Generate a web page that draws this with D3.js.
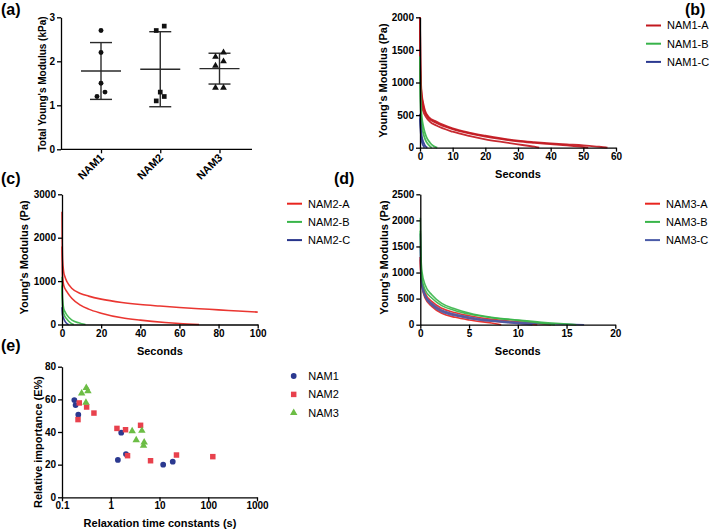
<!DOCTYPE html>
<html><head><meta charset="utf-8">
<script src="https://cdn.jsdelivr.net/npm/d3@7"></script>
<style>body{margin:0;background:#fff}svg{display:block}</style>
</head><body><svg id="c" width="709" height="532"></svg>
<script>
// ---------- DATA ----------
// (a) Total Young's modulus (kPa)
const groups = ["NAM1", "NAM2", "NAM3"];
const nam1Total = [2.7, 2.2, 1.5, 1.3, 1.2];
const nam2Total = [2.8, 2.7, 1.3, 1.2, 1.1];
const nam3Total = [2.2, 2.1, 2.0, 1.9, 1.4, 1.4];
const aTicks = [0, 1, 2, 3];

// (b) NAM1 relaxation curves [seconds, Pa]
const nam1A_1 = [[0,2000],[0.1,1400],[0.3,1000],[0.6,800],[1,680],[1.5,576],[2.6,475],[5,400],[10,296],[15,232],[20,184],[25,142],[30,107],[35,84],[40,65],[45,50],[50,35],[54,18],[57,3],[57.4,0]];
const nam1A_2 = [[0,2000],[0.1,1350],[0.3,950],[0.6,760],[1,640],[1.5,550],[2.6,455],[5,380],[10,285],[15,220],[20,170],[25,130],[30,97],[35,74],[40,54],[45,35],[49,15],[51.5,0]];
const nam1A_3 = [[0,2000],[0.1,1200],[0.3,850],[0.6,650],[1,560],[1.8,475],[3,400],[5,340],[10,245],[15,180],[20,128],[25,88],[30,51],[33,30],[35,15],[36.5,0]];
const nam1B_1 = [[0,1400],[0.1,950],[0.3,640],[0.6,450],[1,330],[1.5,230],[2,160],[3,80],[4,30],[5,5],[5.3,0]];
const nam1B_2 = [[0,1400],[0.1,800],[0.3,500],[0.6,330],[1,220],[1.5,140],[2,85],[3,25],[3.6,0]];
const nam1C_1 = [[0,520],[0.1,400],[0.3,270],[0.6,160],[1,90],[1.5,35],[2,8],[2.3,0]];
const nam1C_2 = [[0,450],[0.2,250],[0.5,110],[1,30],[1.4,0]];
const bXTicks = [0,10,20,30,40,50,60];
const bYTicks = [0,500,1000,1500,2000];

// (c) NAM2 relaxation curves
const nam2A_1 = [[0,2600],[0.1,1900],[0.3,1500],[0.85,1215],[1.5,1100],[2.55,985],[5.1,830],[9.4,715],[13.6,654],[20,585],[30.6,508],[40,461],[50,425],[60,392],[70,363],[80,338],[90,310],[100,285]];
const nam2A_2 = [[0,1800],[0.1,1400],[0.3,1100],[0.85,907],[2.55,754],[5.1,600],[9.4,446],[13.6,354],[20,261],[30.6,154],[40,100],[52.7,46],[60,23],[70,0]];
const nam2B_1 = [[0,1100],[0.1,800],[0.3,600],[0.85,369],[1.7,280],[2.55,215],[5.1,100],[8.5,38],[10,18],[12,0]];
const nam2B_2 = [[0,900],[0.1,600],[0.3,430],[0.85,254],[2.55,123],[4.2,46],[6,0]];
const nam2C_1 = [[0,400],[0.2,250],[0.5,180],[0.85,138],[1.7,61],[2.5,20],[3.4,0]];
const cXTicks = [0,20,40,60,80,100];
const cYTicks = [0,1000,2000,3000];

// (d) NAM3 relaxation curves
const nam3A_1 = [[0,1300],[0.05,1000],[0.17,750],[0.5,506],[1.2,346],[2.2,218],[3.6,141],[5,90],[7.3,32],[8.3,0]];
const nam3A_2 = [[0,1300],[0.05,1050],[0.17,820],[0.5,602],[1.2,442],[2.2,314],[3.6,230],[5,173],[7.3,102],[10,58],[13.4,0]];
const nam3A_3 = [[0,1250],[0.05,980],[0.17,780],[0.5,550],[1.2,390],[2.2,265],[3.6,185],[5,130],[7.3,70],[10,30],[12,0]];
const nam3B_1 = [[0,2050],[0.05,1400],[0.17,1018],[0.5,762],[1.2,570],[2.2,410],[3.6,301],[5,224],[7.3,141],[10,90],[13.1,38],[15.5,6],[16,0]];
const nam3B_2 = [[0,1800],[0.05,1200],[0.17,900],[0.5,666],[1.2,506],[2.2,365],[3.6,269],[5,205],[7.3,134],[10,83],[12,40],[13.8,0]];
const nam3C_1 = [[0,1750],[0.05,1150],[0.17,850],[0.5,570],[1.2,410],[2.2,282],[3.6,198],[5,147],[7.3,83],[10,45],[13.1,19],[16.8,0]];
const nam3C_2 = [[0,1500],[0.05,1000],[0.17,750],[0.5,530],[1.2,370],[2.2,250],[3.6,170],[5,120],[7.3,65],[10,25],[11.5,0]];
const dXTicks = [0,5,10,15,20];
const dYTicks = [0,500,1000,1500,2000,2500];

// (e) relaxation time constants (s) vs relative importance (E%)
const nam1Tau = [0.179, 0.19, 0.216, 1.64, 1.40, 2.05, 11.9, 18.7];
const nam1E   = [59.6, 56.5, 50.6, 39.6, 22.9, 26.5, 20.0, 21.8];
const nam2Tau = [0.226, 0.213, 0.32, 0.452, 1.34, 2.01, 4.09, 2.21, 6.55, 22.3, 124];
const nam2E   = [57.8, 47.6, 55.3, 51.6, 42.2, 41.4, 44.1, 25.5, 22.4, 25.9, 24.9];
const nam3Tau = [0.315, 0.34, 0.253, 0.31, 2.75, 4.35, 3.33, 4.85, 4.7];
const nam3E   = [67.1, 65.1, 63.7, 58.0, 40.6, 40.8, 35.1, 33.7, 31.6];
const eXTicks = [0.1, 1, 10, 100, 1000];
const eYTicks = [0, 20, 40, 60, 80];

// ---------- DRAWING ----------
const FONT = "'Liberation Sans', Arial, Helvetica, sans-serif";
const svg = d3.select("#c").attr("font-family", FONT);
svg.append("rect").attr("width", 709).attr("height", 532).attr("fill", "#fff");

function styleAxis(sel, fs) {
  sel.attr("font-family", FONT);
  sel.select(".domain").attr("stroke", "#000").attr("stroke-width", 1.3);
  sel.selectAll(".tick line").attr("stroke", "#000").attr("stroke-width", 1.3);
  sel.selectAll(".tick text").attr("font-size", fs).attr("font-weight", "bold").attr("fill", "#000");
}
function yAxis(scale, x, ticks, fmt) {
  const g = svg.append("g").attr("transform", `translate(${x},0)`)
    .call(d3.axisLeft(scale).tickValues(ticks).tickSize(4).tickSizeOuter(0).tickPadding(2).tickFormat(fmt || d3.format("d")));
  styleAxis(g, 10);
  return g;
}
function xAxis(scale, y, ticks, fmt) {
  const g = svg.append("g").attr("transform", `translate(0,${y})`)
    .call(d3.axisBottom(scale).tickValues(ticks).tickSize(4).tickSizeOuter(0).tickPadding(1).tickFormat(fmt || d3.format("d")));
  styleAxis(g, 10);
  return g;
}
function label(x, y, txt, size, weight, rotate, anchor) {
  const t = svg.append("text").attr("x", x).attr("y", y).text(txt)
    .attr("font-size", size).attr("font-weight", weight || "bold")
    .attr("text-anchor", anchor || "middle").attr("fill", "#000");
  if (rotate) t.attr("transform", `rotate(${rotate},${x},${y})`);
  return t;
}

// Panel labels
label(1, 15, "(a)", 16, "bold", 0, "start");
label(685, 15, "(b)", 16, "bold", 0, "start");
label(1, 184, "(c)", 16, "bold", 0, "start");
label(334, 184, "(d)", 16, "bold", 0, "start");
label(1, 351, "(e)", 16, "bold", 0, "start");

// ---- (a) ----
{
  const x = d3.scalePoint().domain(groups).range([101, 219.5]);
  const y = d3.scaleLinear().domain([0, 3]).range([149.3, 17.3]);
  yAxis(y, 61, aTicks);
  const gx = svg.append("g").attr("transform", "translate(0,149.3)")
    .call(d3.axisBottom(x).tickSize(4).tickSizeOuter(0));
  styleAxis(gx, 11);
  gx.select(".domain").remove();
  svg.append("line").attr("x1", 61).attr("x2", 252).attr("y1", 149.3).attr("y2", 149.3)
    .attr("stroke", "#000").attr("stroke-width", 1.3);
  gx.selectAll(".tick text").attr("x", 0).attr("y", 0).attr("dy", 0)
    .attr("text-anchor", "end").attr("transform", "translate(3,9) rotate(-45)");
  label(46, 84, "Total Young's Modulus (kPa)", 10, "bold", -90);

  const sets = [nam1Total, nam2Total, nam3Total];
  const shapes = [d3.symbolCircle, d3.symbolSquare, d3.symbolTriangle];
  const sizes = [19, 22, 20];
  sets.forEach((vals, gi) => {
    const cx = x(groups[gi]);
    const mean = d3.mean(vals), sd = d3.deviation(vals);
    const col = "#2a2a2a";
    svg.append("line").attr("x1", cx - 20).attr("x2", cx + 20).attr("y1", y(mean)).attr("y2", y(mean)).attr("stroke", col).attr("stroke-width", 1.4);
    svg.append("line").attr("x1", cx).attr("x2", cx).attr("y1", y(mean + sd)).attr("y2", y(mean - sd)).attr("stroke", col).attr("stroke-width", 1.4);
    [mean + sd, mean - sd].forEach(v => svg.append("line").attr("x1", cx - 11).attr("x2", cx + 11)
      .attr("y1", y(v)).attr("y2", y(v)).attr("stroke", col).attr("stroke-width", 1.4));
    // cluster-based horizontal dodge of overlapping points
    const sorted = vals.map((v, i) => ({ v, i })).sort((a, b) => b.v - a.v);
    const clusters = [];
    sorted.forEach(p => {
      const last = clusters[clusters.length - 1];
      if (last && Math.abs(last[last.length - 1].v - p.v) < 0.15) last.push(p); else clusters.push([p]);
    });
    clusters.forEach(cl => {
      cl.forEach((p, k) => {
        let off;
        if (cl.length === 1) off = 0;
        else if (cl.length % 2 === 1) off = k === 0 ? 0 : (k % 2 === 1 ? 4 : -4);
        else off = k % 2 === 0 ? 4 : -4;
        svg.append("path").attr("d", d3.symbol().type(shapes[gi]).size(sizes[gi])())
          .attr("transform", `translate(${cx + off},${y(p.v)})`).attr("fill", "#111");
      });
    });
  });
}

function curvePanel(opt) {
  const x = d3.scaleLinear().domain(opt.xDom).range(opt.xRange);
  const y = d3.scaleLinear().domain(opt.yDom).range(opt.yRange);
  const line = d3.line().x(d => x(d[0])).y(d => y(d[1])).curve(d3.curveMonotoneX);
  const drawOrder = opt.drawOrder || opt.series.map((s, i) => i);
  drawOrder.forEach(i => {
    const s = opt.series[i];
    s.curves.forEach(c => svg.append("path").attr("d", line(c)).attr("fill", "none")
      .attr("stroke", s.color).attr("stroke-width", opt.lw || 1.6).attr("stroke-opacity", 0.92));
  });
  yAxis(y, opt.xRange[0], opt.yTicks);
  xAxis(x, opt.yRange[0], opt.xTicks);
  label((opt.xRange[0] + opt.xRange[1]) / 2, opt.xTitleY, "Seconds", 11, "bold");
  label(opt.yTitleX, (opt.yRange[0] + opt.yRange[1]) / 2 - 2, "Young's Modulus (Pa)", 11, "bold", -90);
  opt.series.forEach((s, i) => {
    const ly = opt.legY + i * 18.2;
    svg.append("line").attr("x1", opt.legX).attr("x2", opt.legX + 15).attr("y1", ly).attr("y2", ly)
      .attr("stroke", s.color).attr("stroke-width", 2);
    svg.append("text").attr("x", opt.legX + 21).attr("y", ly).attr("dy", "0.36em").text(s.name)
      .attr("font-size", 11).attr("fill", "#000");
  });
}

// ---- (b) ----
curvePanel({
  xDom: [0, 60], xRange: [420, 616], yDom: [0, 2000], yRange: [147.7, 17.3],
  xTicks: bXTicks, yTicks: bYTicks, xTitleY: 178, yTitleX: 387, legX: 646, legY: 25.5, lw: 1.8,
  series: [
    { name: "NAM1-A", color: "#c2181f", curves: [nam1A_1, nam1A_2, nam1A_3] },
    { name: "NAM1-B", color: "#37b34a", curves: [nam1B_1, nam1B_2] },
    { name: "NAM1-C", color: "#2b3990", curves: [nam1C_1, nam1C_2] }
  ]
});

// ---- (c) ----
curvePanel({
  xDom: [0, 100], xRange: [62, 257.7], yDom: [0, 3000], yRange: [324.5, 194.3],
  xTicks: cXTicks, yTicks: cYTicks, xTitleY: 355, yTitleX: 28, legX: 287, legY: 203.7,
  series: [
    { name: "NAM2-A", color: "#e8251f", curves: [nam2A_1, nam2A_2] },
    { name: "NAM2-B", color: "#39b54a", curves: [nam2B_1, nam2B_2] },
    { name: "NAM2-C", color: "#27348b", curves: [nam2C_1] }
  ]
});

// ---- (d) ----
curvePanel({
  xDom: [0, 20], xRange: [420.3, 615.3], yDom: [0, 2500], yRange: [324.7, 194.3],
  xTicks: dXTicks, yTicks: dYTicks, xTitleY: 355, yTitleX: 388, legX: 645, legY: 203.7,
  drawOrder: [0, 2, 1],
  series: [
    { name: "NAM3-A", color: "#e8251f", curves: [nam3A_1, nam3A_2, nam3A_3] },
    { name: "NAM3-B", color: "#39b54a", curves: [nam3B_1, nam3B_2] },
    { name: "NAM3-C", color: "#4a5ba8", curves: [nam3C_1, nam3C_2] }
  ]
});

// ---- (e) ----
{
  const x = d3.scaleLog().domain([0.1, 1000]).range([62, 257]);
  const y = d3.scaleLinear().domain([0, 80]).range([497.3, 366.7]);
  yAxis(y, 62, eYTicks);
  xAxis(x, 497.3, eXTicks, d => String(d));
  label(41.5, 442, "Relative importance (E%)", 11, "bold", -90);
  label(160, 527, "Relaxation time constants (s)", 11, "bold");
  const series = [
    { name: "NAM1", tau: nam1Tau, e: nam1E, type: d3.symbolCircle, size: 26, color: "#2b3990" },
    { name: "NAM2", tau: nam2Tau, e: nam2E, type: d3.symbolSquare, size: 30, color: "#e8414d" },
    { name: "NAM3", tau: nam3Tau, e: nam3E, type: d3.symbolTriangle, size: 24, color: "#6cbd45" }
  ];
  series.forEach((s, i) => {
    s.tau.forEach((t, k) => svg.append("path").attr("d", d3.symbol().type(s.type).size(s.size)())
      .attr("transform", `translate(${x(t)},${y(s.e[k])})`).attr("fill", s.color));
    const ly = 376 + i * 18.4;
    svg.append("path").attr("d", d3.symbol().type(s.type).size(s.size)())
      .attr("transform", `translate(293.7,${ly})`).attr("fill", s.color);
    svg.append("text").attr("x", 308.3).attr("y", ly).attr("dy", "0.36em").text(s.name)
      .attr("font-size", 11).attr("fill", "#000");
  });
}
</script></body></html>
